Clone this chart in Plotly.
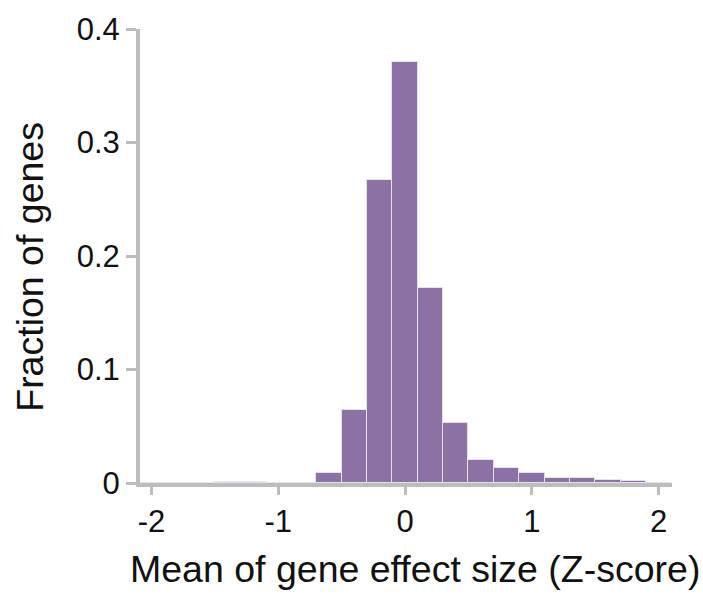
import plotly.graph_objects as go

# Bin centers (Z-score), bin width 0.2
bin_centers = [-2.0, -1.8, -1.6, -1.4, -1.2, -1.0, -0.8, -0.6, -0.4, -0.2, 0.0,
               0.2, 0.4, 0.6, 0.8, 1.0, 1.2, 1.4, 1.6, 1.8, 2.0]
fractions = [0.0, 0.0, 0.0, 0.0005, 0.0008, 0.0, 0.0, 0.0086, 0.064, 0.267, 0.371,
             0.172, 0.053, 0.020, 0.013, 0.0086, 0.0046, 0.0046, 0.0026, 0.0017, 0.0]
x_ticks = [-2, -1, 0, 1, 2]
y_ticks = [0, 0.1, 0.2, 0.3, 0.4]
y_tick_text = ["0", "0.1", "0.2", "0.3", "0.4"]

BAR = "#8b71a4"
AXIS = "#bdbdbd"
FONT = "Arial, Liberation Sans, sans-serif"

fig = go.Figure(go.Bar(
    x=bin_centers, y=fractions, width=0.2,
    marker=dict(color=BAR, line=dict(color="#e6e1ec", width=1)),
))

fig.update_layout(
    width=703, height=598,
    margin=dict(l=140, r=31, t=19, b=115),
    paper_bgcolor="white", plot_bgcolor="white",
    showlegend=False, bargap=0,
    font=dict(family=FONT, color="#111111"),
)
fig.update_xaxes(
    range=[-2.09, 2.105], tickvals=x_ticks, ticktext=[str(v) for v in x_ticks],
    showline=True, linecolor=AXIS, linewidth=4,
    ticks="outside", ticklen=8, tickwidth=3, tickcolor=AXIS,
    showgrid=False, zeroline=False, tickfont=dict(size=31, family=FONT, color="#111111"),
)
fig.update_yaxes(
    range=[0, 0.4], tickvals=y_ticks, ticktext=y_tick_text,
    showline=True, linecolor=AXIS, linewidth=4,
    ticks="outside", ticklen=10, tickwidth=3, tickcolor=AXIS,
    showgrid=False, zeroline=False, tickfont=dict(size=31, family=FONT, color="#111111"),
)
fig.add_annotation(text="Mean of gene effect size (Z-score)", xref="paper", yref="paper",
                   x=0.517, y=-0.19, xanchor="center", yanchor="middle", showarrow=False,
                   font=dict(size=37.5, family=FONT, color="#111111"))
fig.add_annotation(text="Fraction of genes", xref="paper", yref="paper",
                   x=-0.207, y=0.476, xanchor="center", yanchor="middle", showarrow=False,
                   textangle=-90, font=dict(size=37.5, family=FONT, color="#111111"))

fig.write_html("out.html")
